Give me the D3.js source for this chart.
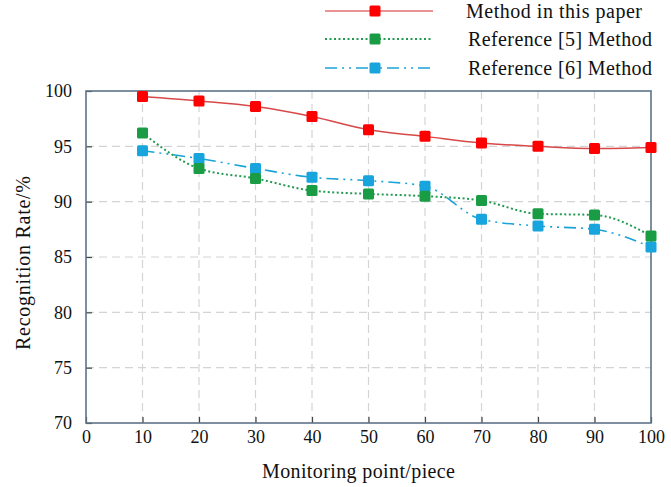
<!DOCTYPE html>
<html>
<head>
<meta charset="utf-8">
<script src="https://cdn.jsdelivr.net/npm/d3@7"></script>
<style>
  body { margin: 0; background: #fff; }
  svg text { font-family: "Liberation Serif", "DejaVu Serif", serif; fill: #111; }
</style>
</head>
<body>
<svg class="chart"></svg>
<script>
var WIDTH = 671;
var HEIGHT = 487;

var LEFT = 86, RIGHT = 651, TOP = 91, BOTTOM = 423;

var points_x = [10, 20, 30, 40, 50, 60, 70, 80, 90, 100];
var ours = [99.5, 99.1, 98.6, 97.7, 96.5, 95.9, 95.3, 95.0, 94.8, 94.9];
var ref5 = [96.2, 93.0, 92.1, 91.0, 90.7, 90.5, 90.1, 88.9, 88.8, 86.9];
var ref6 = [94.6, 93.9, 93.0, 92.2, 91.9, 91.4, 88.4, 87.8, 87.5, 85.9];

var x_ticks = [0, 10, 20, 30, 40, 50, 60, 70, 80, 90, 100];
var y_ticks = [70, 75, 80, 85, 90, 95, 100];

var series_names = ["Method in this paper", "Reference [5] Method", "Reference [6] Method"];

var svg = d3.select(".chart")
    .attr("width", WIDTH)
    .attr("height", HEIGHT);

var x = d3.scaleLinear().domain([0, 100]).range([LEFT, RIGHT]);
var y = d3.scaleLinear().domain([70, 100]).range([BOTTOM, TOP]);

// dashed grid
svg.append("g").selectAll("line")
    .data(y_ticks.slice(1, -1))
    .enter().append("line")
    .attr("x1", LEFT).attr("x2", RIGHT)
    .attr("y1", function(d) { return y(d); })
    .attr("y2", function(d) { return y(d); })
    .attr("stroke", "#d4d4d4").attr("stroke-width", 1.2)
    .attr("stroke-dasharray", "8,5");

svg.append("g").selectAll("line")
    .data(x_ticks.slice(1, -1))
    .enter().append("line")
    .attr("y1", TOP).attr("y2", BOTTOM)
    .attr("x1", function(d) { return x(d); })
    .attr("x2", function(d) { return x(d); })
    .attr("stroke", "#d4d4d4").attr("stroke-width", 1.2)
    .attr("stroke-dasharray", "8,5");

// axes (ticks point inward)
var x_axis = svg.append("g")
    .attr("transform", "translate(0," + BOTTOM + ")")
    .call(d3.axisBottom(x).tickValues(x_ticks).tickSizeInner(-6).tickSizeOuter(0).tickPadding(14));
var y_axis = svg.append("g")
    .attr("transform", "translate(" + LEFT + ",0)")
    .call(d3.axisLeft(y).tickValues(y_ticks).tickSizeInner(-6).tickSizeOuter(0).tickPadding(14));

[x_axis, y_axis].forEach(function(a) {
    a.select(".domain").remove();
    a.selectAll(".tick line").attr("stroke", "#444").attr("stroke-width", 1.2);
    a.selectAll("text").style("font-family", "Liberation Serif, serif").style("font-size", "18px").attr("fill", "#111");
});
x_axis.selectAll("text").attr("y", 20).attr("dy", 0);

// frame
svg.append("rect")
    .attr("x", LEFT).attr("y", TOP)
    .attr("width", RIGHT - LEFT).attr("height", BOTTOM - TOP)
    .attr("fill", "none").attr("stroke", "#5d7488").attr("stroke-width", 1.6);

var styles = [
    { data: ours, line: "#d84848", legend: "#e07070", mark: "#ff0000", dash: null, width: 1.5 },
    { data: ref5, line: "#239a52", legend: "#239a52", mark: "#1a9c45", dash: "2,2.5", width: 2 },
    { data: ref6, line: "#1aa3d6", legend: "#1aa3d6", mark: "#18a4dc", dash: "12,5,2,5,2,5", width: 1.6 }
];

var line = d3.line()
    .x(function(d, i) { return x(points_x[i]); })
    .y(function(d) { return y(d); })
    .curve(d3.curveMonotoneX);

var MS = 11;
styles.slice().reverse().forEach(function(s) {
    svg.append("path")
        .attr("d", line(s.data))
        .attr("fill", "none")
        .attr("stroke", s.line)
        .attr("stroke-width", s.width)
        .attr("stroke-dasharray", s.dash);
    svg.append("g").selectAll("rect")
        .data(s.data)
        .enter().append("rect")
        .attr("x", function(d, i) { return x(points_x[i]) - MS / 2; })
        .attr("y", function(d) { return y(d) - MS / 2; })
        .attr("width", MS).attr("height", MS)
        .attr("rx", 1.5)
        .attr("fill", s.mark);
});

// legend
var legend = svg.append("g");
var legend_y = [11, 39, 68];
var legend_text_x = [466, 468, 468];
var legend_text_len = [176, 184, 184];
styles.forEach(function(s, i) {
    var ly = legend_y[i];
    legend.append("line")
        .attr("x1", 325).attr("x2", 433)
        .attr("y1", ly).attr("y2", ly)
        .attr("stroke", s.legend).attr("stroke-width", s.width)
        .attr("stroke-dasharray", s.dash);
    legend.append("rect")
        .attr("x", 375 - MS / 2).attr("y", ly - MS / 2)
        .attr("width", MS).attr("height", MS).attr("rx", 1.5)
        .attr("fill", s.mark);
    legend.append("text")
        .attr("x", legend_text_x[i])
        .attr("y", ly + 7)
        .attr("textLength", legend_text_len[i])
        .style("font-size", "20px")
        .text(series_names[i]);
});

// axis titles
svg.append("text")
    .attr("x", 262)
    .attr("y", 478)
    .attr("textLength", 193)
    .style("font-size", "20px")
    .text("Monitoring point/piece");

svg.append("text")
    .attr("transform", "translate(30,263) rotate(-90)")
    .attr("text-anchor", "middle")
    .attr("textLength", 174)
    .style("font-size", "20px")
    .text("Recognition Rate/%");
</script>
</body>
</html>
